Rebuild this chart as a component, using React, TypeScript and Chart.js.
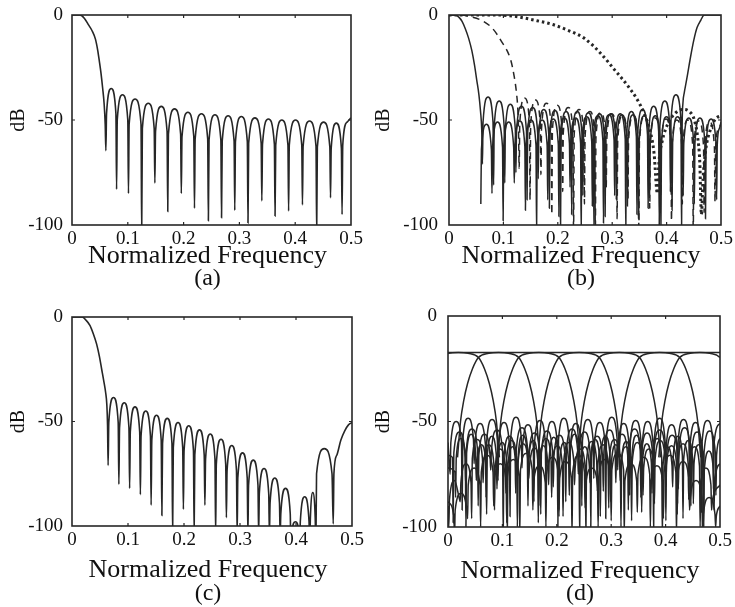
import React, { useEffect, useRef } from 'react';
import { Chart, registerables } from 'chart.js';
Chart.register(...registerables);

type P = [number, number];

const X_TICKS = [0, 0.1, 0.2, 0.3, 0.4, 0.5];
const Y_TICKS = [0, -50, -100];
const X_TITLE = 'Normalized Frequency';
const Y_TITLE = 'dB';

// ---------- (a) lowpass prototype ----------
const aResp: P[] = [
  [0, 0], [0.014, 0], [0.022, -1.5], [0.029, -4.5], [0.036, -7.5], [0.042, -11.5], [0.046, -16.7], [0.049, -22], [0.052, -27.8], [0.055, -35], [0.0575, -42], [0.0595, -52],
  [0.0607, -64.6], [0.0619, -47], [0.0703, -35], [0.0787, -47],
  [0.0799, -83], [0.0811, -50], [0.0905, -38], [0.1, -50],
  [0.1012, -85], [0.1024, -52], [0.113, -40], [0.1237, -52],
  [0.1249, -104], [0.1261, -54], [0.1367, -42], [0.1473, -54],
  [0.1485, -80], [0.1497, -55.5], [0.16, -43.5], [0.1704, -55.5],
  [0.1716, -93.6], [0.1728, -56.7], [0.1838, -44.7], [0.1947, -56.7],
  [0.1959, -85], [0.1971, -58], [0.2077, -46.3], [0.2183, -58],
  [0.2195, -92], [0.2207, -59], [0.232, -47], [0.2432, -59],
  [0.2444, -98], [0.2456, -59.5], [0.2562, -47.5], [0.2668, -59.5],
  [0.268, -96.5], [0.2692, -60], [0.2798, -48], [0.2905, -60],
  [0.2917, -93], [0.2929, -60.3], [0.3035, -48.3], [0.3142, -60.3],
  [0.3154, -99], [0.3166, -61], [0.3278, -49], [0.339, -61],
  [0.3402, -88.5], [0.3414, -61.5], [0.352, -49.5], [0.3627, -61.5],
  [0.3639, -95.7], [0.3651, -62], [0.376, -50], [0.387, -62],
  [0.3882, -93.3], [0.3894, -62], [0.4006, -50], [0.4118, -62],
  [0.413, -90.4], [0.4142, -62.5], [0.4257, -50.5], [0.4373, -62.5],
  [0.4385, -104], [0.4397, -63], [0.4509, -51], [0.4621, -63],
  [0.4633, -87], [0.4645, -63.5], [0.4737, -51.5], [0.4828, -63.5],
  [0.484, -95], [0.4852, -62], [0.493, -51], [0.5, -49],
];

// ---------- (b) four filters ----------
const bLow: P[] = [
  [0, 0], [0.012, 0], [0.018, -1], [0.024, -3], [0.03, -6.5], [0.036, -11], [0.042, -17], [0.047, -24], [0.051, -31], [0.055, -38], [0.058, -46], [0.0602, -55],
  [0.0615, -71], [0.0626, -51], [0.0718, -39], [0.0809, -51],
  [0.082, -81], [0.0831, -53], [0.0923, -41], [0.1014, -53],
  [0.1025, -80], [0.1036, -54.5], [0.1128, -42.5], [0.1219, -54.5],
  [0.123, -75], [0.1241, -55.5], [0.1333, -43.5], [0.1424, -55.5],
  [0.1435, -88], [0.1446, -56], [0.1538, -44], [0.1629, -56],
  [0.164, -78], [0.1651, -57], [0.1743, -45], [0.1834, -57],
  [0.1845, -92], [0.1856, -57.5], [0.1948, -45.5], [0.2039, -57.5],
  [0.205, -104], [0.2061, -58], [0.2153, -46], [0.2244, -58],
  [0.2255, -95], [0.2266, -58], [0.2358, -46], [0.2449, -58],
  [0.246, -86], [0.2471, -58.5], [0.2563, -46.5], [0.2654, -58.5],
  [0.2665, -104], [0.2676, -59], [0.2768, -47], [0.2859, -59],
  [0.287, -96], [0.2881, -59], [0.2973, -47], [0.3064, -59],
  [0.3075, -88], [0.3086, -59.5], [0.3178, -47.5], [0.3269, -59.5],
  [0.328, -91], [0.3291, -59.5], [0.3383, -47.5], [0.3474, -59.5],
  [0.3485, -97], [0.3496, -60], [0.3588, -48], [0.3679, -60],
  [0.369, -84], [0.3701, -60], [0.3793, -48], [0.3884, -60],
  [0.3895, -104], [0.3906, -60.5], [0.3998, -48.5], [0.4089, -60.5],
  [0.41, -93], [0.4111, -60.5], [0.4203, -48.5], [0.4294, -60.5],
  [0.4305, -86], [0.4316, -61], [0.4408, -49], [0.4499, -61],
  [0.451, -90], [0.4521, -61], [0.4613, -49], [0.4704, -61],
  [0.4715, -97], [0.4726, -61.5], [0.4818, -49.5], [0.4909, -61.5],
  [0.492, -88], [0.4931, -62], [0.497, -54], [0.5, -51],
];

const bHigh: P[] = [
  [0.0585, -90], [0.0596, -64], [0.0688, -52], [0.0779, -64],
  [0.079, -85], [0.0801, -63], [0.0893, -51], [0.0984, -63],
  [0.0995, -98], [0.1006, -63], [0.1098, -51], [0.1189, -63],
  [0.12, -80], [0.1211, -62.5], [0.1303, -50.5], [0.1394, -62.5],
  [0.1405, -93], [0.1416, -62], [0.1508, -50], [0.1599, -62],
  [0.161, -104], [0.1621, -62], [0.1713, -50], [0.1804, -62],
  [0.1815, -88], [0.1826, -61.5], [0.1918, -49.5], [0.2009, -61.5],
  [0.202, -96], [0.2031, -61], [0.2123, -49], [0.2214, -61],
  [0.2225, -82], [0.2236, -61], [0.2328, -49], [0.2419, -61],
  [0.243, -104], [0.2441, -60.5], [0.2533, -48.5], [0.2624, -60.5],
  [0.2635, -91], [0.2646, -60], [0.2738, -48], [0.2829, -60],
  [0.284, -99], [0.2851, -59.5], [0.2943, -47.5], [0.3034, -59.5],
  [0.3045, -86], [0.3056, -59], [0.3148, -47], [0.3239, -59],
  [0.325, -104], [0.3261, -58], [0.3353, -46], [0.3444, -58],
  [0.3455, -95], [0.3466, -57], [0.3558, -45], [0.3649, -57],
  [0.366, -92], [0.3671, -55.5], [0.3763, -43.5], [0.3854, -55.5],
  [0.3865, -100], [0.3876, -53], [0.3968, -41], [0.4059, -53],
  [0.407, -84], [0.4081, -50], [0.4173, -38], [0.4264, -50],
  [0.4275, -104], [0.4285, -55], [0.43, -42], [0.4325, -37], [0.436, -32], [0.4387, -28], [0.444, -20], [0.45, -12], [0.456, -6], [0.463, -2.4], [0.469, 0], [0.5, 0],
];

const bMid: P[] = [
  [0, 0], [0.02, 0], [0.04, -0.8], [0.061, -2.7], [0.08, -6.4], [0.095, -12], [0.1135, -21.5], [0.12, -29.5], [0.124, -37], [0.1265, -45], [0.1278, -55],
  [0.129, -73], [0.1301, -51.5], [0.139, -39.5], [0.1479, -51.5],
  [0.149, -88], [0.1501, -52.5], [0.159, -40.5], [0.1679, -52.5],
  [0.169, -76], [0.1701, -54], [0.179, -42], [0.1879, -54],
  [0.189, -95], [0.1901, -55], [0.199, -43], [0.2079, -55],
  [0.209, -84], [0.2101, -56], [0.219, -44], [0.2279, -56],
  [0.229, -104], [0.2301, -57], [0.239, -45], [0.2479, -57],
  [0.249, -90], [0.2501, -58], [0.259, -46], [0.2679, -58],
  [0.269, -104], [0.2701, -58.5], [0.279, -46.5], [0.2879, -58.5],
  [0.289, -82], [0.2901, -59], [0.299, -47], [0.3079, -59],
  [0.309, -97], [0.3101, -60], [0.319, -48], [0.3279, -60],
  [0.329, -88], [0.3301, -60], [0.339, -48], [0.3479, -60],
  [0.349, -104], [0.3501, -60.5], [0.359, -48.5], [0.3679, -60.5],
  [0.369, -92], [0.3701, -61], [0.379, -49], [0.3879, -61],
  [0.389, -86], [0.3901, -61.5], [0.399, -49.5], [0.4079, -61.5],
  [0.409, -98], [0.4101, -62], [0.419, -50], [0.4279, -62],
  [0.429, -90], [0.4301, -62], [0.439, -50], [0.4479, -62],
  [0.449, -104], [0.4501, -62.5], [0.459, -50.5], [0.4679, -62.5],
  [0.469, -94], [0.4701, -63], [0.479, -51], [0.4879, -63],
  [0.489, -89], [0.4901, -63], [0.496, -54], [0.5, -52],
];

const bWide: P[] = [
  [0, 0], [0.085, 0], [0.12, -0.6], [0.156, -2.4], [0.19, -4.5], [0.218, -7.2], [0.248, -11], [0.279, -18.3], [0.304, -26], [0.328, -33.5], [0.347, -40.7], [0.359, -47], [0.371, -56.6], [0.377, -66], [0.383, -85],
  [0.386, -70], [0.392, -60], [0.402, -52], [0.415, -47], [0.43, -45], [0.442, -46], [0.451, -50], [0.457, -58], [0.461, -70], [0.464, -95],
  [0.467, -78], [0.472, -64], [0.48, -55], [0.49, -49.5], [0.5, -48],
];

// ---------- (c) lowpass with decaying sidelobes ----------
const cResp: P[] = [
  [0, 0], [0.018, 0], [0.025, -1.5], [0.032, -4], [0.038, -8], [0.044, -13], [0.049, -19], [0.053, -25], [0.057, -31], [0.06, -36], [0.0622, -42], [0.0635, -52],
  [0.0645, -71], [0.0657, -50.5], [0.0741, -38.5], [0.0825, -50.5],
  [0.0837, -80], [0.0849, -53], [0.0933, -41], [0.1017, -53],
  [0.1029, -82], [0.1041, -55], [0.1125, -43], [0.1209, -55],
  [0.1221, -85], [0.1233, -57], [0.1317, -45], [0.1401, -57],
  [0.1413, -90], [0.1425, -59], [0.1509, -47], [0.1593, -59],
  [0.1605, -95], [0.1617, -60.5], [0.1701, -48.5], [0.1785, -60.5],
  [0.1797, -104], [0.1809, -62.5], [0.1893, -50.5], [0.1977, -62.5],
  [0.1989, -92], [0.2001, -64], [0.2085, -52], [0.2169, -64],
  [0.2181, -104], [0.2193, -66], [0.2277, -54], [0.2361, -66],
  [0.2373, -90], [0.2385, -68], [0.2469, -56], [0.2553, -68],
  [0.2565, -104], [0.2577, -70.5], [0.2661, -58.5], [0.2745, -70.5],
  [0.2757, -96], [0.2769, -73.5], [0.2853, -61.5], [0.2937, -73.5],
  [0.2949, -104], [0.2961, -77], [0.3045, -65], [0.3129, -77],
  [0.3141, -104], [0.3153, -80.5], [0.3237, -68.5], [0.3321, -80.5],
  [0.3333, -104], [0.3345, -84.5], [0.3429, -72.5], [0.3513, -84.5],
  [0.3525, -104], [0.3537, -89], [0.3621, -77], [0.3705, -89],
  [0.3717, -104], [0.3729, -94], [0.3813, -82], [0.3897, -94],
  [0.3909, -110], [0.3921, -104], [0.399, -98], [0.4055, -104],
  [0.4065, -110], [0.4077, -98], [0.4155, -86], [0.4233, -98],
  [0.4245, -110], [0.4257, -96], [0.43, -84], [0.4343, -96],
  [0.4355, -110], [0.4367, -75], [0.4505, -63], [0.4643, -75],
  [0.4665, -99], [0.4677, -75], [0.473, -66], [0.48, -59], [0.487, -54.5], [0.494, -51.5], [0.5, -50.5],
];

// ---------- (d) filter bank ----------
const dSumLine: P[] = [[0, -17.3], [0.5, -17.3]];
const archDb = [-67, -50, -40, -32, -25, -19.7, -17.7, -17.3, -17.7, -19.7, -25, -32, -40, -50, -67];
const arch0F = [-0.0565, -0.051, -0.045, -0.038, -0.029, -0.018, 0.001, 0.019, 0.037, 0.056, 0.067, 0.076, 0.083, 0.089, 0.0945];
const arch1F = [0.0175, 0.023, 0.029, 0.036, 0.045, 0.056, 0.075, 0.093, 0.111, 0.13, 0.141, 0.15, 0.157, 0.163, 0.1685];
const arch2F = [0.0915, 0.097, 0.103, 0.11, 0.119, 0.13, 0.149, 0.167, 0.185, 0.204, 0.215, 0.224, 0.231, 0.237, 0.2425];
const arch3F = [0.1655, 0.171, 0.177, 0.184, 0.193, 0.204, 0.223, 0.241, 0.259, 0.278, 0.289, 0.298, 0.305, 0.311, 0.3165];
const arch4F = [0.2395, 0.245, 0.251, 0.258, 0.267, 0.278, 0.297, 0.315, 0.333, 0.352, 0.363, 0.372, 0.379, 0.385, 0.3905];
const arch5F = [0.3135, 0.319, 0.325, 0.332, 0.341, 0.352, 0.371, 0.389, 0.407, 0.426, 0.437, 0.446, 0.453, 0.459, 0.4645];
const arch6F = [0.3875, 0.393, 0.399, 0.406, 0.415, 0.426, 0.445, 0.463, 0.481, 0.5, 0.511, 0.52, 0.527, 0.533, 0.5385];

const dSide1: P[] = [
  [0, -60],
  [0.004, -75], [0.0052, -60], [0.015, -50], [0.0248, -60],
  [0.026, -92], [0.0272, -58.5], [0.037, -48.5], [0.0468, -58.5],
  [0.048, -70], [0.0492, -61], [0.059, -51], [0.0688, -61],
  [0.07, -86], [0.0712, -59], [0.081, -49], [0.0908, -59],
  [0.092, -78], [0.0932, -60.5], [0.103, -50.5], [0.1128, -60.5],
  [0.114, -95], [0.1152, -58], [0.125, -48], [0.1348, -58],
  [0.136, -72], [0.1372, -61.5], [0.147, -51.5], [0.1568, -61.5],
  [0.158, -88], [0.1592, -59.5], [0.169, -49.5], [0.1788, -59.5],
  [0.18, -80], [0.1812, -60], [0.191, -50], [0.2008, -60],
  [0.202, -100], [0.2032, -58.5], [0.213, -48.5], [0.2228, -58.5],
  [0.224, -74], [0.2252, -61], [0.235, -51], [0.2448, -61],
  [0.246, -90], [0.2472, -59], [0.257, -49], [0.2668, -59],
  [0.268, -77], [0.2692, -60.5], [0.279, -50.5], [0.2888, -60.5],
  [0.29, -96], [0.2912, -58], [0.301, -48], [0.3108, -58],
  [0.312, -73], [0.3132, -61], [0.323, -51], [0.3328, -61],
  [0.334, -85], [0.3352, -59.5], [0.345, -49.5], [0.3548, -59.5],
  [0.356, -79], [0.3572, -60], [0.367, -50], [0.3768, -60],
  [0.378, -104], [0.3792, -58.5], [0.389, -48.5], [0.3988, -58.5],
  [0.4, -71], [0.4012, -61.5], [0.411, -51.5], [0.4208, -61.5],
  [0.422, -89], [0.4232, -59], [0.433, -49], [0.4428, -59],
  [0.444, -76], [0.4452, -60.5], [0.455, -50.5], [0.4648, -60.5],
  [0.466, -93], [0.4672, -59.5], [0.477, -49.5], [0.4868, -59.5],
  [0.488, -82], [0.4892, -60], [0.5, -51],
];

const dSide2: P[] = [
  [0, -66], [0.0083, -67],
  [0.0095, -98], [0.0107, -65], [0.021, -55], [0.0313, -65],
  [0.0325, -80], [0.0337, -63.5], [0.044, -53.5], [0.0543, -63.5],
  [0.0555, -90], [0.0567, -66], [0.067, -56], [0.0773, -66],
  [0.0785, -73], [0.0797, -64], [0.09, -54], [0.1003, -64],
  [0.1015, -104], [0.1027, -67], [0.113, -57], [0.1233, -67],
  [0.1245, -84], [0.1257, -63], [0.136, -53], [0.1463, -63],
  [0.1475, -77], [0.1487, -65.5], [0.159, -55.5], [0.1693, -65.5],
  [0.1705, -94], [0.1717, -64.5], [0.182, -54.5], [0.1923, -64.5],
  [0.1935, -81], [0.1947, -66.5], [0.205, -56.5], [0.2153, -66.5],
  [0.2165, -88], [0.2177, -63.5], [0.228, -53.5], [0.2383, -63.5],
  [0.2395, -75], [0.2407, -65], [0.251, -55], [0.2613, -65],
  [0.2625, -100], [0.2637, -67], [0.274, -57], [0.2843, -67],
  [0.2855, -83], [0.2867, -64], [0.297, -54], [0.3073, -64],
  [0.3085, -79], [0.3097, -66], [0.32, -56], [0.3303, -66],
  [0.3315, -92], [0.3327, -63.5], [0.343, -53.5], [0.3533, -63.5],
  [0.3545, -86], [0.3557, -65.5], [0.366, -55.5], [0.3763, -65.5],
  [0.3775, -74], [0.3787, -64], [0.389, -54], [0.3993, -64],
  [0.4005, -97], [0.4017, -66.5], [0.412, -56.5], [0.4223, -66.5],
  [0.4235, -82], [0.4247, -63], [0.435, -53], [0.4453, -63],
  [0.4465, -90], [0.4477, -65], [0.458, -55], [0.4683, -65],
  [0.4695, -100], [0.4707, -64.5], [0.481, -54.5], [0.4913, -64.5],
  [0.4925, -85], [0.4937, -66], [0.5, -58],
];

const dSide3: P[] = [
  [0, -90],
  [0.0015, -100], [0.0027, -87], [0.012, -78], [0.0213, -87],
  [0.0225, -88], [0.0237, -79], [0.033, -70], [0.0423, -79],
  [0.0435, -96], [0.0447, -67.5], [0.054, -58.5], [0.0633, -67.5],
  [0.0645, -79], [0.0657, -70], [0.075, -61], [0.0843, -70],
  [0.0855, -92], [0.0867, -72], [0.096, -63], [0.1053, -72],
  [0.1065, -84], [0.1077, -68], [0.117, -59], [0.1263, -68],
  [0.1275, -100], [0.1287, -69.5], [0.138, -60.5], [0.1473, -69.5],
  [0.1485, -77], [0.1497, -71.5], [0.159, -62.5], [0.1683, -71.5],
  [0.1695, -90], [0.1707, -67], [0.18, -58], [0.1893, -67],
  [0.1905, -86], [0.1917, -70.5], [0.201, -61.5], [0.2103, -70.5],
  [0.2115, -95], [0.2127, -69], [0.222, -60], [0.2313, -69],
  [0.2325, -80], [0.2337, -72], [0.243, -63], [0.2523, -72],
  [0.2535, -104], [0.2547, -68.5], [0.264, -59.5], [0.2733, -68.5],
  [0.2745, -83], [0.2757, -70], [0.285, -61], [0.2943, -70],
  [0.2955, -91], [0.2967, -67.5], [0.306, -58.5], [0.3153, -67.5],
  [0.3165, -78], [0.3177, -71], [0.327, -62], [0.3363, -71],
  [0.3375, -97], [0.3387, -69], [0.348, -60], [0.3573, -69],
  [0.3585, -85], [0.3597, -72], [0.369, -63], [0.3783, -72],
  [0.3795, -89], [0.3807, -68], [0.39, -59], [0.3993, -68],
  [0.4005, -81], [0.4017, -70.5], [0.411, -61.5], [0.4203, -70.5],
  [0.4215, -94], [0.4227, -69.5], [0.432, -60.5], [0.4413, -69.5],
  [0.4425, -87], [0.4437, -71], [0.453, -62], [0.4623, -71],
  [0.4635, -100], [0.4647, -80], [0.474, -72], [0.4833, -80],
  [0.4845, -92], [0.4857, -88], [0.5, -80],
];

const dSide4: P[] = [
  [0, -88], [0.0108, -95],
  [0.012, -104], [0.0132, -92], [0.024, -84], [0.0348, -92],
  [0.036, -96], [0.0372, -80], [0.048, -72], [0.0588, -80],
  [0.06, -100], [0.0612, -74], [0.072, -66], [0.0828, -74],
  [0.084, -90], [0.0852, -78], [0.096, -70], [0.1068, -78],
  [0.108, -98], [0.1092, -76], [0.12, -68], [0.1308, -76],
  [0.132, -104], [0.1332, -73], [0.144, -65], [0.1548, -73],
  [0.156, -92], [0.1572, -79], [0.168, -71], [0.1788, -79],
  [0.18, -100], [0.1812, -75], [0.192, -67], [0.2028, -75],
  [0.204, -95], [0.2052, -77], [0.216, -69], [0.2268, -77],
  [0.228, -104], [0.2292, -74], [0.24, -66], [0.2508, -74],
  [0.252, -91], [0.2532, -80], [0.264, -72], [0.2748, -80],
  [0.276, -100], [0.2772, -76], [0.288, -68], [0.2988, -76],
  [0.3, -97], [0.3012, -73], [0.312, -65], [0.3228, -73],
  [0.324, -104], [0.3252, -78], [0.336, -70], [0.3468, -78],
  [0.348, -93], [0.3492, -75], [0.36, -67], [0.3708, -75],
  [0.372, -100], [0.3732, -79], [0.384, -71], [0.3948, -79],
  [0.396, -96], [0.3972, -74], [0.408, -66], [0.4188, -74],
  [0.42, -104], [0.4212, -77], [0.432, -69], [0.4428, -77],
  [0.444, -92], [0.4452, -86], [0.456, -78], [0.4668, -86],
  [0.468, -104], [0.4692, -94], [0.48, -86], [0.4908, -94],
  [0.492, -100], [0.4932, -95], [0.5, -90],
];

const dSide5: P[] = [
  [0, -72], [0.0128, -74],
  [0.014, -86], [0.0152, -67], [0.0235, -58], [0.0318, -67],
  [0.033, -100], [0.0342, -65], [0.0425, -56], [0.0508, -65],
  [0.052, -78], [0.0532, -70], [0.0615, -61], [0.0698, -70],
  [0.071, -94], [0.0722, -66], [0.0805, -57], [0.0888, -66],
  [0.09, -82], [0.0912, -69], [0.0995, -60], [0.1078, -69],
  [0.109, -104], [0.1102, -71], [0.1185, -62], [0.1268, -71],
  [0.128, -76], [0.1292, -65.5], [0.1375, -56.5], [0.1458, -65.5],
  [0.147, -90], [0.1482, -68], [0.1565, -59], [0.1648, -68],
  [0.166, -98], [0.1672, -70.5], [0.1755, -61.5], [0.1838, -70.5],
  [0.185, -80], [0.1862, -66.5], [0.1945, -57.5], [0.2028, -66.5],
  [0.204, -92], [0.2052, -69], [0.2135, -60], [0.2218, -69],
  [0.223, -85], [0.2242, -65], [0.2325, -56], [0.2408, -65],
  [0.242, -104], [0.2432, -71], [0.2515, -62], [0.2598, -71],
  [0.261, -79], [0.2622, -67.5], [0.2705, -58.5], [0.2788, -67.5],
  [0.28, -95], [0.2812, -66], [0.2895, -57], [0.2978, -66],
  [0.299, -88], [0.3002, -70], [0.3085, -61], [0.3168, -70],
  [0.318, -100], [0.3192, -68.5], [0.3275, -59.5], [0.3358, -68.5],
  [0.337, -77], [0.3382, -65.5], [0.3465, -56.5], [0.3548, -65.5],
  [0.356, -93], [0.3572, -69.5], [0.3655, -60.5], [0.3738, -69.5],
  [0.375, -84], [0.3762, -67], [0.3845, -58], [0.3928, -67],
  [0.394, -104], [0.3952, -71], [0.4035, -62], [0.4118, -71],
  [0.413, -81], [0.4142, -66], [0.4225, -57], [0.4308, -66],
  [0.432, -96], [0.4332, -68], [0.4415, -59], [0.4498, -68],
  [0.451, -89], [0.4522, -70], [0.4605, -61], [0.4688, -70],
  [0.47, -100], [0.4712, -73], [0.4795, -64], [0.4878, -73],
  [0.489, -92], [0.4902, -78], [0.5, -70],
];

// ---------- layout / style ----------
const FONT = '"Liberation Serif", "Times New Roman", serif';
const INK = '#262626';

type Series = { data: P[]; dash?: number[]; width?: number; smooth?: boolean };
type Panel = {
  label: string; left: number; top: number; w: number; h: number;
  padTop: number; padRight: number; yW: number; xH: number;
  tickPadY: number; tickPadX: number; titleBase: number; labelBase: number; dbX: number;
  lineW: number; series: Series[];
};

const zip = (xs: number[], ys: number[]): P[] => xs.map((x, i) => [x, ys[i]]);

const PANELS: Panel[] = [
  {
    label: '(a)', left: 0, top: 0, w: 367, h: 300, padTop: 15, padRight: 16, yW: 72, xH: 75,
    tickPadY: 9, tickPadX: 3, titleBase: 263, labelBase: 285, dbX: 19, lineW: 1.6,
    series: [{ data: aResp }],
  },
  {
    label: '(b)', left: 367, top: 0, w: 368, h: 300, padTop: 15, padRight: 14, yW: 82, xH: 75,
    tickPadY: 11, tickPadX: 3, titleBase: 263, labelBase: 285, dbX: 17, lineW: 1.5,
    series: [
      { data: bLow }, { data: bHigh },
      { data: bMid, dash: [7, 5] },
      { data: bWide, dash: [2.5, 3], width: 3 },
    ],
  },
  {
    label: '(c)', left: 0, top: 300, w: 367, h: 307, padTop: 17, padRight: 15, yW: 72, xH: 81,
    tickPadY: 9, tickPadX: 3, titleBase: 277, labelBase: 300, dbX: 19, lineW: 1.6,
    series: [{ data: cResp }],
  },
  {
    label: '(d)', left: 367, top: 300, w: 368, h: 307, padTop: 16, padRight: 15, yW: 81, xH: 80,
    tickPadY: 11, tickPadX: 3, titleBase: 278, labelBase: 300, dbX: 17, lineW: 1.5,
    series: [
      { data: dSide4 }, { data: dSide3 }, { data: dSide5 }, { data: dSide2 }, { data: dSide1 },
      { data: dSumLine, smooth: false },
      { data: zip(arch0F, archDb) }, { data: zip(arch1F, archDb) }, { data: zip(arch2F, archDb) },
      { data: zip(arch3F, archDb) }, { data: zip(arch4F, archDb) }, { data: zip(arch5F, archDb) },
      { data: zip(arch6F, archDb) },
    ],
  },
];

function makeFrame(p: Panel) {
  return {
    id: 'frame' + p.label.replace(/[()]/g, ''),
    afterDatasetsDraw(chart: any) {
      const { ctx, chartArea } = chart;
      const { left, top, right, bottom } = chartArea;
      const xs = chart.scales.x;
      const ys = chart.scales.y;
      ctx.save();
      ctx.strokeStyle = INK;
      ctx.lineWidth = 1.6;
      ctx.strokeRect(left, top, right - left, bottom - top);
      ctx.lineWidth = 1.2;
      ctx.beginPath();
      X_TICKS.slice(1, -1).forEach((v) => {
        const px = xs.getPixelForValue(v);
        ctx.moveTo(px, bottom); ctx.lineTo(px, bottom - 3);
        ctx.moveTo(px, top); ctx.lineTo(px, top + 3);
      });
      Y_TICKS.slice(1, -1).forEach((v) => {
        const py = ys.getPixelForValue(v);
        ctx.moveTo(left, py); ctx.lineTo(left + 3, py);
        ctx.moveTo(right, py); ctx.lineTo(right - 3, py);
      });
      ctx.stroke();
      const cx = (left + right) / 2 - 4;
      ctx.fillStyle = '#111';
      ctx.textAlign = 'center';
      ctx.textBaseline = 'alphabetic';
      ctx.font = `26px ${FONT}`;
      ctx.fillText(X_TITLE, cx, p.titleBase);
      ctx.font = `24px ${FONT}`;
      ctx.fillText(p.label, cx, p.labelBase);
      ctx.translate(p.dbX, (top + bottom) / 2);
      ctx.rotate(-Math.PI / 2);
      ctx.font = `20px ${FONT}`;
      ctx.textBaseline = 'middle';
      ctx.fillText(Y_TITLE, 0, 0);
      ctx.restore();
    },
  };
}

function makeConfig(p: Panel): any {
  return {
    type: 'line',
    data: {
      datasets: p.series.map((s) => ({
        data: s.data.map(([x, y]) => ({ x, y })),
        borderColor: INK,
        borderWidth: s.width ?? p.lineW,
        borderDash: s.dash ?? [],
        borderCapStyle: 'butt',
        borderJoinStyle: 'miter',
        pointRadius: 0,
        fill: false,
        tension: 0,
        cubicInterpolationMode: s.smooth === false ? 'default' : 'monotone',
      })),
    },
    options: {
      responsive: false,
      animation: false,
      devicePixelRatio: 1,
      parsing: false,
      events: [],
      layout: { padding: { top: p.padTop, right: p.padRight, left: 0, bottom: 0 } },
      plugins: { legend: { display: false }, tooltip: { enabled: false }, title: { display: false } },
      scales: {
        x: {
          type: 'linear', min: 0, max: 0.5,
          afterFit: (s: any) => { s.height = p.xH; s.paddingLeft = 0; s.paddingRight = 0; },
          grid: { display: false, drawTicks: false },
          border: { display: false },
          ticks: {
            stepSize: 0.1, autoSkip: false, maxRotation: 0, padding: p.tickPadX,
            color: '#111', font: { family: FONT, size: 19 },
            callback: (v: any) => (Math.abs(v) < 1e-9 ? '0' : Number(v).toFixed(1)),
          },
        },
        y: {
          type: 'linear', min: -100, max: 0,
          afterFit: (s: any) => { s.width = p.yW; s.paddingTop = 0; s.paddingBottom = 0; },
          grid: { display: false, drawTicks: false },
          border: { display: false },
          ticks: {
            stepSize: 50, padding: p.tickPadY,
            color: '#111', font: { family: FONT, size: 19 },
            callback: (v: any) => String(Math.round(v)),
          },
        },
      },
    },
    plugins: [makeFrame(p)],
  };
}

export default function App() {
  const refs = useRef<(HTMLCanvasElement | null)[]>([]);
  useEffect(() => {
    const charts = PANELS.map((p, i) => new Chart(refs.current[i] as HTMLCanvasElement, makeConfig(p)));
    return () => charts.forEach((c) => c.destroy());
  }, []);
  return (
    <div style={{ position: 'fixed', left: 0, top: 0, width: 735, height: 607, background: '#fff', overflow: 'hidden' }}>
      {PANELS.map((p, i) => (
        <canvas
          key={p.label}
          ref={(el) => { refs.current[i] = el; }}
          width={p.w}
          height={p.h}
          style={{ position: 'absolute', left: p.left, top: p.top, width: p.w, height: p.h }}
        />
      ))}
    </div>
  );
}
